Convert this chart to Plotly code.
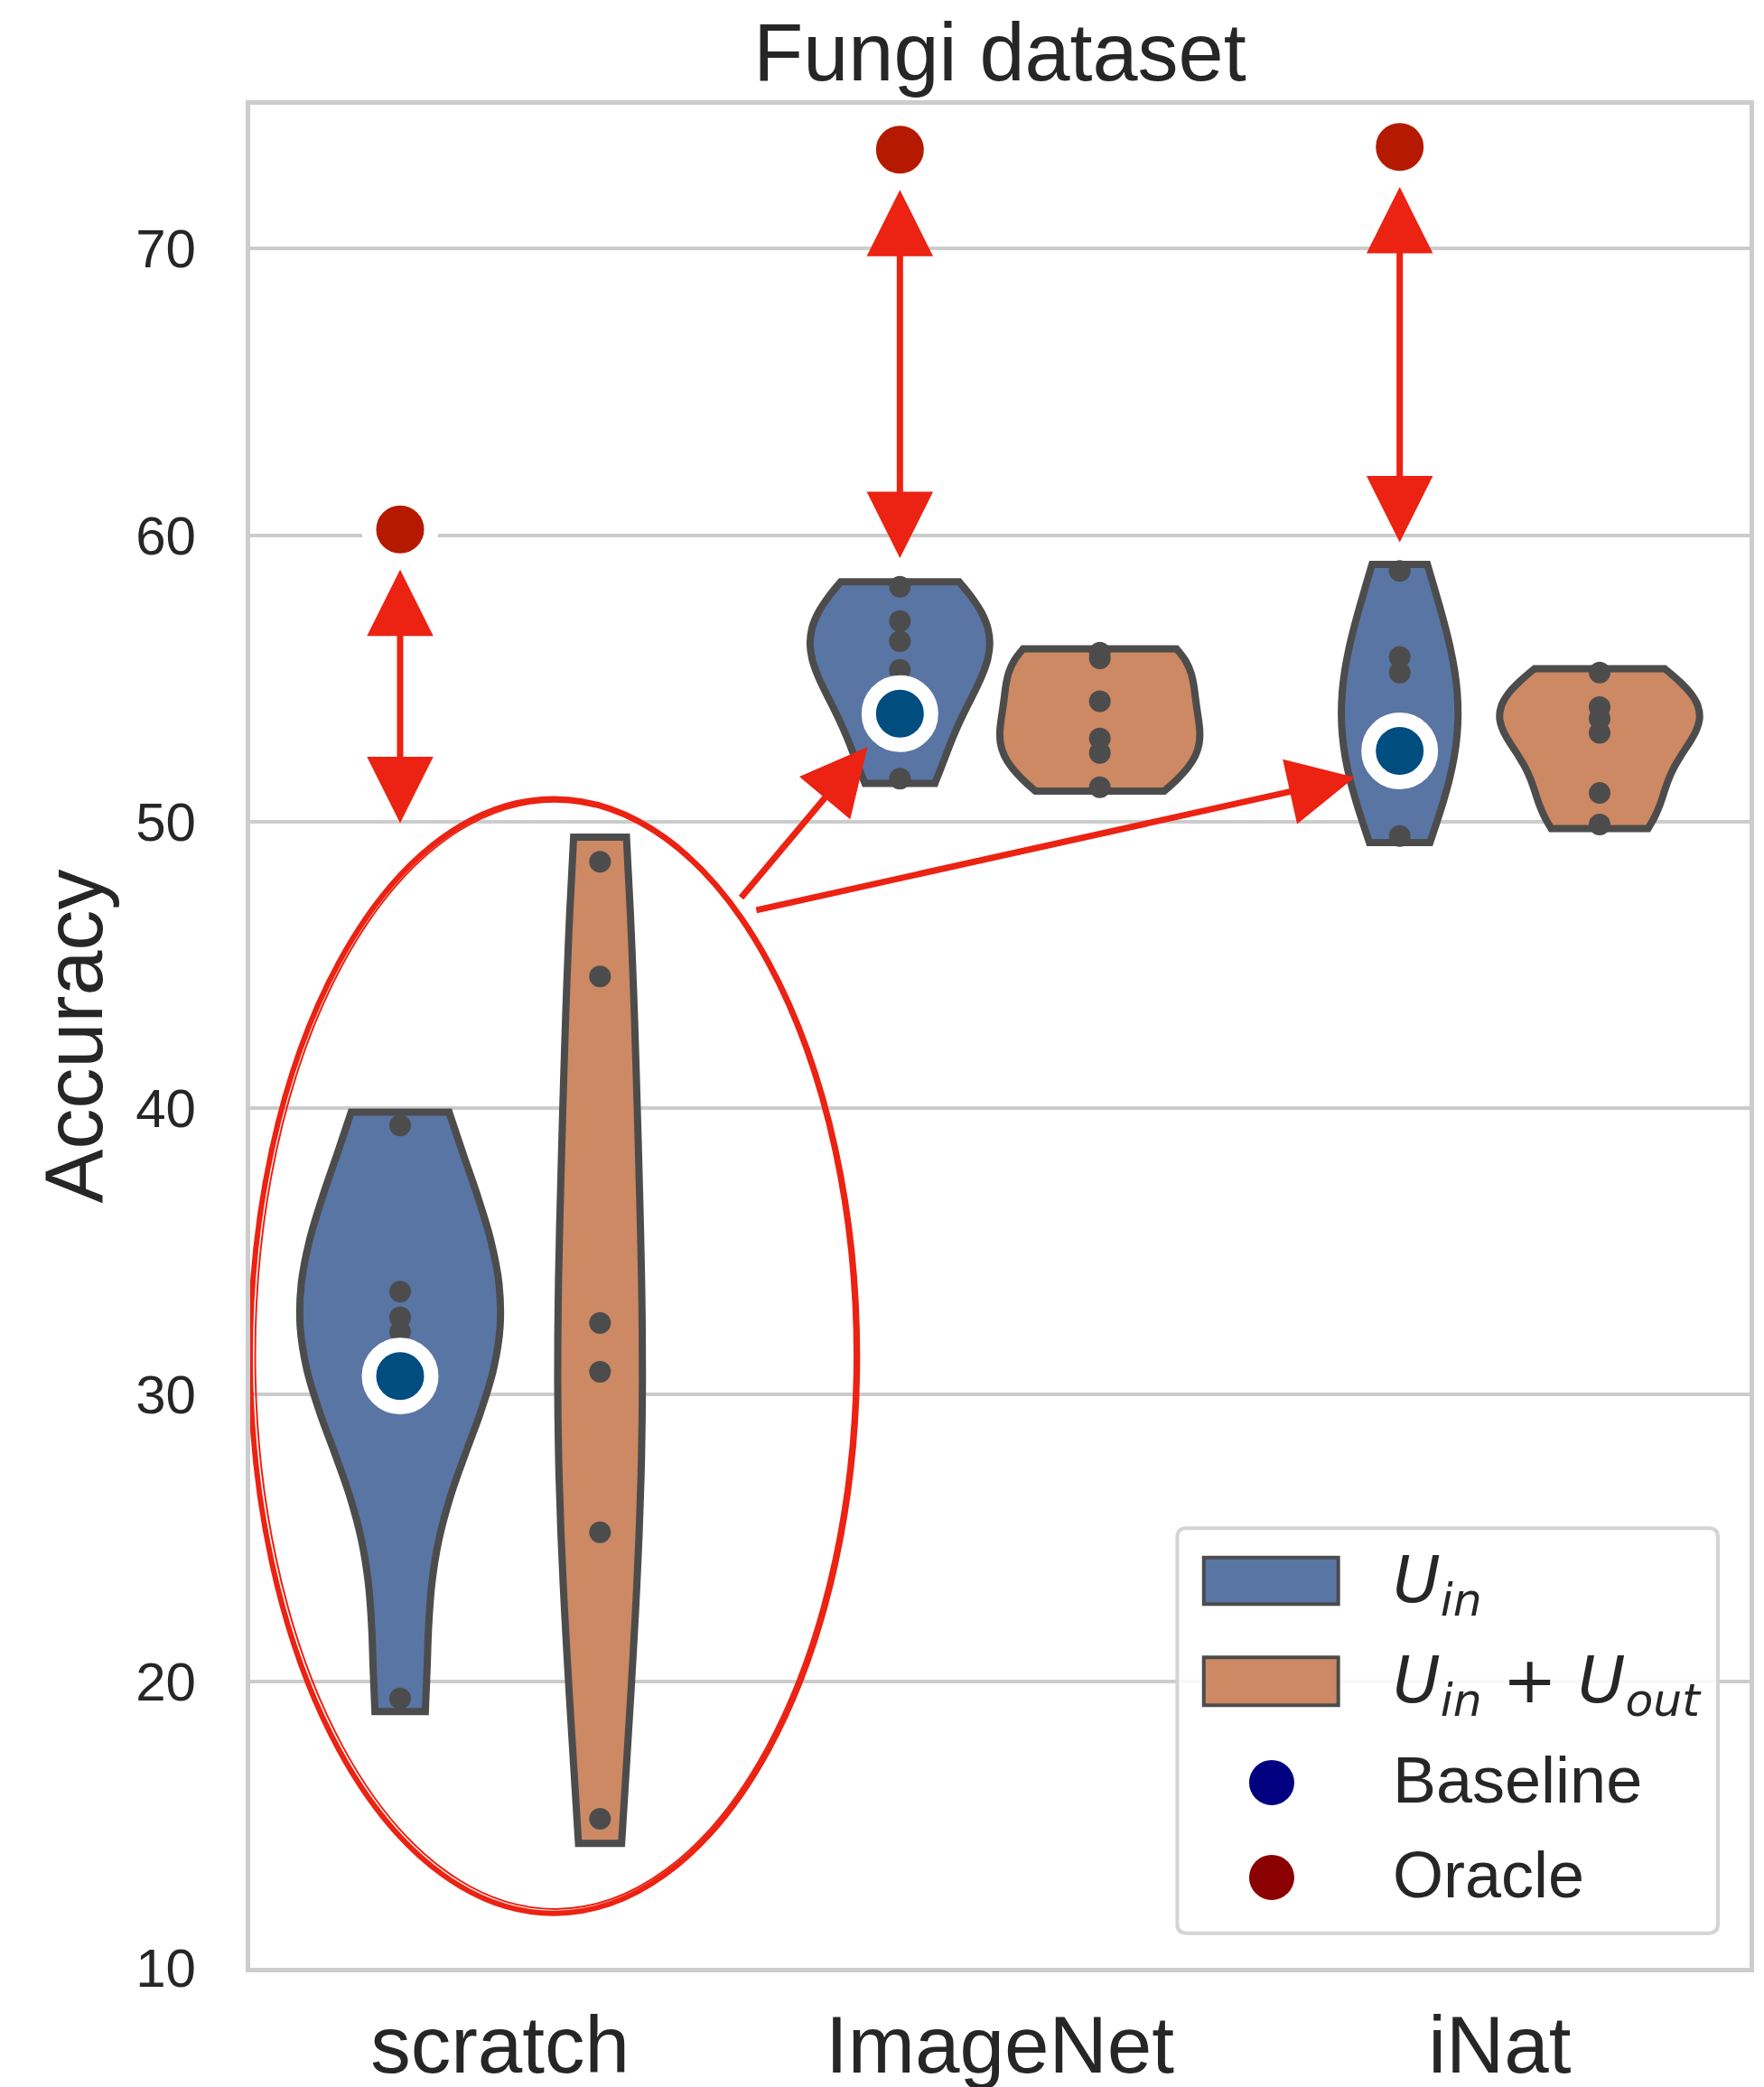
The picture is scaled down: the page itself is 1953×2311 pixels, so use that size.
import numpy as np
import plotly.graph_objects as go

# ---------------- data ----------------
categories = ["scratch", "ImageNet", "iNat"]
scratch_uin = [39.4, 33.6, 32.7, 32.2, 30.7, 19.4]
scratch_uinout = [48.6, 44.6, 32.5, 30.8, 25.2, 15.2]
imagenet_uin = [58.2, 57.0, 56.3, 55.3, 53.8, 51.5]
imagenet_uinout = [55.9, 55.7, 54.2, 52.9, 52.4, 51.2]
inat_uin = [58.75, 55.75, 55.2, 52.5, 52.4, 49.5]
inat_uinout = [55.2, 54.0, 53.6, 53.1, 51.0, 49.9]
baseline_acc = [30.65, 53.77, 52.47]
oracle_acc = [60.2, 73.45, 73.55]
y_ticks = [10, 20, 30, 40, 50, 60, 70]

uin_groups = [scratch_uin, imagenet_uin, inat_uin]
uinout_groups = [scratch_uinout, imagenet_uinout, inat_uinout]

# ---------------- style ----------------
BLUE = "#5975a4"
ORANGE = "#cc8963"
EDGE = "#4c4c4c"
GRID = "#cccccc"
TEXT = "#262626"
RED = "#ec2212"
FONT = "Liberation Sans, Arial, sans-serif"
DODGE = 0.2
FULLW = 0.4
CUT = 0.1


def kde_info(vals):
    v = np.asarray(vals, dtype=float)
    n = len(v)
    bw = v.std(ddof=1) * n ** (-0.2)
    lo, hi = v.min() - CUT * bw, v.max() + CUT * bw
    grid = np.linspace(lo, hi, 100)
    dens = np.exp(-0.5 * ((grid[:, None] - v[None, :]) / bw) ** 2).sum(1) / (n * bw * np.sqrt(2 * np.pi))
    return bw, dens.max(), (lo, hi)


fig = go.Figure()

for i, cat in enumerate(categories):
    infos = [kde_info(uin_groups[i]), kde_info(uinout_groups[i])]
    gmax = max(inf[1] for inf in infos)
    for j, (vals, col) in enumerate([(uin_groups[i], BLUE), (uinout_groups[i], ORANGE)]):
        bw, dmax, span = infos[j]
        fig.add_trace(go.Violin(
            y=vals, x0=i + (-DODGE if j == 0 else DODGE),
            width=FULLW * dmax / gmax,
            bandwidth=bw, spanmode="manual", span=list(span),
            fillcolor=col, opacity=1,
            line=dict(color=EDGE, width=8),
            points="all", pointpos=0, jitter=0,
            marker=dict(color=EDGE, size=24, line=dict(width=0)),
            box_visible=False, meanline_visible=False,
            showlegend=False, hoverinfo="skip",
        ))

xpos = [i - DODGE for i in range(len(categories))]
fig.add_trace(go.Scatter(
    x=xpos, y=baseline_acc, mode="markers", showlegend=False, hoverinfo="skip",
    marker=dict(size=69, color="#004d80", line=dict(color="white", width=16)),
))
fig.add_trace(go.Scatter(
    x=xpos, y=oracle_acc, mode="markers", showlegend=False, hoverinfo="skip",
    marker=dict(size=69, color="#b51a00", line=dict(color="white", width=16)),
))

# ---------------- hand-drawn style annotations ----------------
ell_x0, ell_x1, ell_y0, ell_y1 = -0.50, 0.715, 11.9, 50.8
fig.add_shape(type="circle", xref="x", yref="y", x0=ell_x0, x1=ell_x1, y0=ell_y0, y1=ell_y1,
              line=dict(color=RED, width=6), layer="above")
fig.add_shape(type="circle", xref="x", yref="y", x0=ell_x0 + 0.01, x1=ell_x1 - 0.006,
              y0=ell_y0 + 0.15, y1=ell_y1 - 0.1,
              line=dict(color=RED, width=2), layer="above")

def add_arrow(x_tail, y_tail, x_head, y_head, both=False):
    fig.add_annotation(
        x=x_head, y=y_head, ax=x_tail, ay=y_tail, xref="x", yref="y", axref="x", ayref="y",
        text="", showarrow=True, arrowhead=2, arrowsize=2.1, arrowwidth=7,
        startarrowhead=2, startarrowsize=2.1,
        arrowside="end+start" if both else "end", arrowcolor=RED, standoff=0, startstandoff=0,
    )

# double arrows between runs and oracle
for i in range(len(categories)):
    top = oracle_acc[i] - 1.4
    bottom = (ell_y1 - 0.9) if i == 0 else (max(uin_groups[i]) + 0.95)
    add_arrow(xpos[i], bottom, xpos[i], top, both=True)

# arrows from scratch to pretrained
add_arrow(0.48, 47.3, 0.735, 52.6)
add_arrow(0.51, 46.9, 1.71, 51.55)

# ---------------- custom legend (paper coordinates) ----------------
def rounded_rect(x0, y0, x1, y1, rx, ry):
    return (f"M{x0+rx},{y0} L{x1-rx},{y0} Q{x1},{y0} {x1},{y0+ry} L{x1},{y1-ry} Q{x1},{y1} {x1-rx},{y1} "
            f"L{x0+rx},{y1} Q{x0},{y1} {x0},{y1-ry} L{x0},{y0+ry} Q{x0},{y0} {x0+rx},{y0} Z")

fig.add_shape(type="path", xref="paper", yref="paper",
              path=rounded_rect(0.6183, 0.0186, 0.9789, 0.2359, 0.006, 0.005),
              line=dict(color="#d4d4d4", width=4), fillcolor="rgba(255,255,255,0.85)", layer="above")
fig.add_shape(type="rect", xref="paper", yref="paper", x0=0.636, x1=0.7257, y0=0.1952, y1=0.2202,
              line=dict(color=EDGE, width=4), fillcolor=BLUE, layer="above")
fig.add_shape(type="rect", xref="paper", yref="paper", x0=0.636, x1=0.7257, y0=0.1409, y1=0.1666,
              line=dict(color=EDGE, width=4), fillcolor=ORANGE, layer="above")
for yc, col in [(0.0994, "#000080"), (0.0485, "#8b0000")]:
    fig.add_shape(type="circle", xref="paper", yref="paper", xsizemode="pixel", ysizemode="pixel",
                  xanchor=0.6813, yanchor=yc, x0=-25, x1=25, y0=-25, y1=25,
                  line=dict(width=0), fillcolor=col, layer="above")

MATH = "<span style='font-family:DejaVu Sans'>"
legend_texts = [
    (0.2061, MATH + "<i>U</i><sub><i>in</i></sub></span>"),
    (0.1523, MATH + "<i>U</i><sub><i>in</i></sub> + <i>U</i><sub><i>out</i></sub></span>"),
    (0.1009, "Baseline"),
    (0.0500, "Oracle"),
]
for yc, txt in legend_texts:
    fig.add_annotation(x=0.761, y=yc, xref="paper", yref="paper", text=txt, showarrow=False,
                       xanchor="left", yanchor="middle", font=dict(family=FONT, size=72, color=TEXT))

# ---------------- layout ----------------
L, R, T, B = 269, 24, 108, 140
fig.update_layout(
    width=1953, height=2311,
    margin=dict(l=L, r=R, t=T, b=B),
    paper_bgcolor="white", plot_bgcolor="white",
    violinmode="overlay",
    showlegend=False,
    font=dict(family=FONT, color=TEXT),
    title=dict(text="Fungi dataset", x=(L + 1953 - R) / 2 / 1953, xanchor="center",
               y=1 - 49 / 2311, yref="container", yanchor="middle",
               font=dict(family=FONT, size=90, color=TEXT)),
    xaxis=dict(range=[-0.5, 2.5], tickvals=list(range(len(categories))), ticktext=categories,
               showgrid=False, zeroline=False, showline=True, mirror=True, linecolor=GRID, linewidth=5,
               ticks="", tickfont=dict(family=FONT, size=89, color=TEXT), ticklabelstandoff=4,
               automargin=False),
    yaxis=dict(range=[10, 75.02], tickvals=y_ticks, showgrid=True, gridcolor=GRID, gridwidth=4,
               zeroline=False, showline=True, mirror=True, linecolor=GRID, linewidth=5,
               ticks="", tickfont=dict(family=FONT, size=60, color=TEXT), ticklabelstandoff=43,
               title=dict(text="Accuracy", font=dict(family=FONT, size=90, color=TEXT), standoff=8),
               automargin=False),
)

fig.write_html("out.html")
